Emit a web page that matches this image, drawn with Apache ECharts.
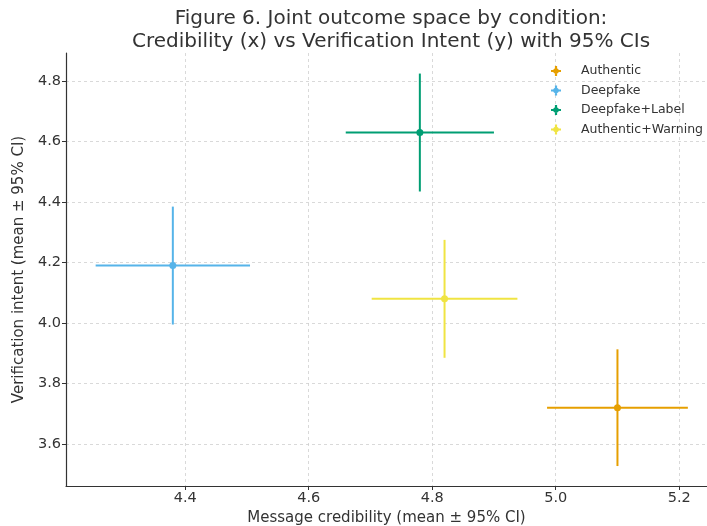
<!DOCTYPE html>
<html>
<head>
<meta charset="utf-8">
<script src="https://cdn.jsdelivr.net/npm/echarts@6/dist/echarts.min.js"></script>
<style>
  html, body { margin: 0; padding: 0; background: #fff; }
  #chart { width: 707px; height: 526px; }
</style>
</head>
<body>
<div id="chart"></div>
<script>
// condition means with 95% CI half-widths
const conditions = ['Authentic', 'Deepfake', 'Deepfake+Label', 'Authentic+Warning']
const colors = ['#E69F00', '#56B4E9', '#009E73', '#F0E442']
const credMean = [5.10, 4.38, 4.78, 4.82]
const credCI = [0.114, 0.125, 0.12, 0.118]
const intentMean = [3.72, 4.19, 4.63, 4.08]
const intentCI = [0.193, 0.195, 0.195, 0.195]
const xTicks = [4.4, 4.6, 4.8, 5.0, 5.2]
const yTicks = [3.6, 3.8, 4.0, 4.2, 4.4, 4.6, 4.8]

const FONT = 'DejaVu Sans'
// errorbar-style legend glyph: cross with a dot in the middle
const legendIcon = 'path://M0,3.9H10V6.1H0Z M3.9,0H6.1V10H3.9Z M7.8,5A2.8,2.8,0,1,1,2.2,5A2.8,2.8,0,1,1,7.8,5Z'

const chart = echarts.init(document.getElementById('chart'))

const series = []
conditions.forEach(function(name, i) {
  // error bars (x and y)
  series.push({
    name: name,
    type: 'custom',
    color: colors[i],
    z: 2,
    renderItem: function(params, api) {
      const x = api.value(0)
      const y = api.value(1)
      const dx = api.value(2)
      const dy = api.value(3)
      const l = api.coord([x - dx, y])
      const r = api.coord([x + dx, y])
      const t = api.coord([x, y + dy])
      const b = api.coord([x, y - dy])
      const style = { stroke: colors[i], lineWidth: 2 }
      return {
        type: 'group',
        children: [
          { type: 'line', shape: { x1: l[0], y1: l[1], x2: r[0], y2: r[1] }, style: style },
          { type: 'line', shape: { x1: t[0], y1: t[1], x2: b[0], y2: b[1] }, style: style }
        ]
      }
    },
    encode: { x: 0, y: 1 },
    data: [[credMean[i], intentMean[i], credCI[i], intentCI[i]]]
  })
  // mean point
  series.push({
    name: name,
    type: 'scatter',
    color: colors[i],
    symbolSize: 7,
    z: 3,
    itemStyle: { color: colors[i], opacity: 1 },
    data: [[credMean[i], intentMean[i]]]
  })
})

chart.setOption({
  backgroundColor: '#fff',
  animation: false,
  title: {
    text: 'Figure 6. Joint outcome space by condition:\nCredibility (x) vs Verification Intent (y) with 95% CIs',
    left: 386,
    top: 2,
    textAlign: 'center',
    textStyle: {
      fontFamily: FONT,
      fontWeight: 'normal',
      fontSize: 20,
      lineHeight: 23,
      color: '#333'
    }
  },
  legend: {
    data: conditions.map(function(c) { return { name: c, icon: legendIcon } }),
    orient: 'vertical',
    left: 546,
    top: 59.5,
    itemWidth: 22,
    itemHeight: 10,
    itemGap: 6.5,
    textStyle: {
      fontFamily: FONT,
      fontSize: 12.5,
      lineHeight: 13,
      color: '#333',
      padding: [0, 0, 0, 9]
    }
  },
  grid: {
    left: 66,
    right: 0,
    top: 53,
    bottom: 40,
    outerBoundsMode: 'none'
  },
  xAxis: {
    type: 'value',
    min: 4.207,
    max: 5.245,
    name: 'Message credibility (mean ± 95% CI)',
    nameLocation: 'middle',
    nameGap: 25,
    nameTextStyle: { fontFamily: FONT, fontSize: 15, color: '#333' },
    axisLine: { show: true, lineStyle: { color: '#333', width: 1.2 } },
    axisTick: { show: true, length: 4, customValues: xTicks, lineStyle: { color: '#333' } },
    axisLabel: {
      customValues: xTicks,
      fontFamily: FONT,
      fontSize: 14.5,
      color: '#333',
      margin: 5,
      formatter: function(v) { return v.toFixed(1) }
    },
    splitLine: { show: true, lineStyle: { color: '#d0d0d0', type: [3, 3], width: 0.8 } }
  },
  yAxis: {
    type: 'value',
    min: 3.461,
    max: 4.893,
    name: 'Verification intent (mean ± 95% CI)',
    nameLocation: 'middle',
    nameGap: 35,
    nameTextStyle: { fontFamily: FONT, fontSize: 15, color: '#333' },
    axisLine: { show: true, lineStyle: { color: '#333', width: 1.2 } },
    axisTick: { show: true, length: 4, customValues: yTicks, lineStyle: { color: '#333' } },
    axisLabel: {
      customValues: yTicks,
      fontFamily: FONT,
      fontSize: 14.5,
      color: '#333',
      margin: 5,
      formatter: function(v) { return v.toFixed(1) }
    },
    splitLine: { show: true, lineStyle: { color: '#d0d0d0', type: [3, 3], width: 0.8 } }
  },
  series: series
})
</script>
</body>
</html>
